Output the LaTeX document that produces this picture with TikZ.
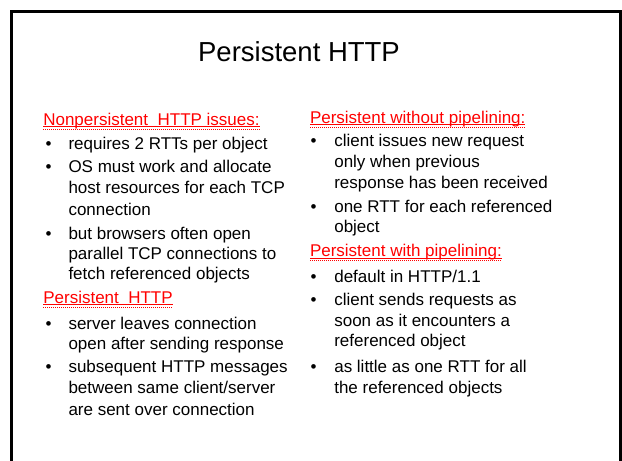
\documentclass[tikz,border=0pt]{standalone}
\usepackage{fontspec}
\setmainfont{Liberation Sans}
\usetikzlibrary{calc}
\definecolor{hdred}{RGB}{255,0,0}
\newcommand\bodyfont{\fontsize{17}{21}\selectfont}
\newcommand\titlefont{\fontsize{27.5}{33}\selectfont}
\tikzset{
  line/.style={anchor=base west, inner sep=0pt, outer sep=0pt, font=\bodyfont, text=black},
  bul/.style={anchor=base, inner sep=0pt, outer sep=0pt, font=\bodyfont, text=black},
  head/.style={anchor=base west, inner sep=0pt, outer sep=0pt, font=\bodyfont, text=hdred},
  uline/.style={draw=hdred, line width=1.1pt},
  squig/.style={draw=hdred, line width=1pt, dash pattern=on 1pt off 1pt},
  frame/.style={draw=black, line width=3pt}
}
% underline plus spell-check dots under a heading node
\newcommand\headmark[1]{%
  \draw[uline] ($(#1.base west)+(0,1.8)$) -- ($(#1.base east)+(0,1.8)$);
  \draw[squig] ($(#1.base west)+(0,4)$) -- ($(#1.base east)+(0,4)$);}
\begin{document}
\begin{tikzpicture}[x=1pt, y=-1pt]
\useasboundingbox (0,0) rectangle (622,461);
\clip (0,0) rectangle (622,461);
\fill[white] (0,0) rectangle (622,461);
% slide frame, open at the bottom edge
\draw[frame] (11.5,470) -- (11.5,11.5) -- (620.5,11.5) -- (620.5,470);

% title
\node[anchor=base, inner sep=0pt, font=\titlefont] (title) at (299,61) {Persistent HTTP};

% ---- left column ----
\node[head] (h1) at (43.3,125) {Nonpersistent\ \ HTTP issues:};
\headmark{h1}
\node[bul] (b1) at (48.5,149) {•};
\node[line] (l1a) at (68.5,149) {requires 2 RTTs per object};
\node[bul] (b2) at (48.5,172.5) {•};
\node[line] (l2a) at (68.5,172.5) {OS must work and allocate};
\node[line] (l2b) at (68.5,193.5) {host resources for each TCP};
\node[line] (l2c) at (68.5,215) {connection};
\node[bul] (b3) at (48.5,239) {•};
\node[line] (l3a) at (68.5,239) {but browsers often open};
\node[line] (l3b) at (68.5,259.5) {parallel TCP connections to};
\node[line] (l3c) at (68.5,279.5) {fetch referenced objects};

\node[head] (h2) at (43.3,303) {Persistent\ \ HTTP};
\headmark{h2}
\node[bul] (b4) at (48.5,329) {•};
\node[line] (l4a) at (68.5,329) {server leaves connection};
\node[line] (l4b) at (68.5,349) {open after sending response};
\node[bul] (b5) at (48.5,372.5) {•};
\node[line] (l5a) at (68.5,372.5) {subsequent HTTP messages};
\node[line] (l5b) at (68.5,393) {between same client/server};
\node[line] (l5c) at (68.5,415) {are sent over connection};

% ---- right column ----
\node[head] (h3) at (310,123) {Persistent without pipelining:};
\headmark{h3}
\node[bul] (b6) at (313.5,146.7) {•};
\node[line] (r1a) at (334.3,146.7) {client issues new request};
\node[line] (r1b) at (334.3,167.3) {only when previous};
\node[line] (r1c) at (334.3,188.3) {response has been received};
\node[bul] (b7) at (313.5,212.3) {•};
\node[line] (r2a) at (334.3,212.3) {one RTT for each referenced};
\node[line] (r2b) at (334.3,232.3) {object};

\node[head] (h4) at (310,256.7) {Persistent with pipelining:};
\headmark{h4}
\node[bul] (b8) at (313.5,282.3) {•};
\node[line] (r3a) at (334.3,282.3) {default in HTTP/1.1};
\node[bul] (b9) at (313.5,305.7) {•};
\node[line] (r4a) at (334.3,305.7) {client sends requests as};
\node[line] (r4b) at (334.3,326.7) {soon as it encounters a};
\node[line] (r4c) at (334.3,346.7) {referenced object};
\node[bul] (b10) at (313.5,372.3) {•};
\node[line] (r5a) at (334.3,372.3) {as little as one RTT for all};
\node[line] (r5b) at (334.3,393) {the referenced objects};
\end{tikzpicture}
\end{document}
